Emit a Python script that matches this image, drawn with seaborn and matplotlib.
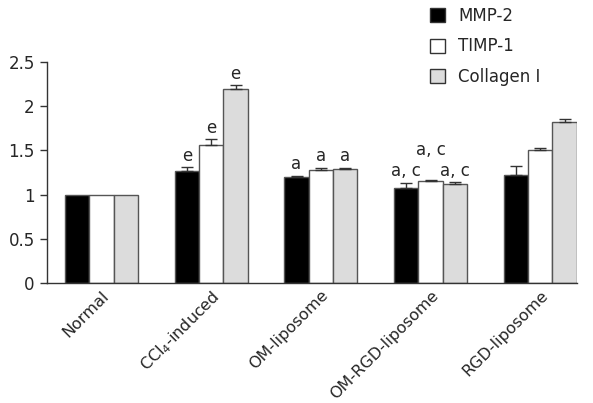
import numpy as np
import pandas as pd
import matplotlib
matplotlib.use("Agg")
import matplotlib.pyplot as plt
import matplotlib.transforms as mtransforms
import seaborn as sns
from matplotlib.patches import Patch

groups = ['Normal', 'CCl$_4$-induced', 'OM-liposome', 'OM-RGD-liposome', 'RGD-liposome']
series = ['MMP-2', 'TIMP-1', 'Collagen I']

mmp2 = [1.00, 1.27, 1.20, 1.08, 1.22]
timp1 = [1.00, 1.565, 1.28, 1.155, 1.50]
collagen = [1.00, 2.20, 1.285, 1.115, 1.82]

mmp2_err = [0.0, 0.04, 0.01, 0.05, 0.10]
timp1_err = [0.0, 0.06, 0.02, 0.015, 0.025]
collagen_err = [0.0, 0.035, 0.015, 0.025, 0.03]

mmp2_sig = ['', 'e', 'a', 'a, c', '']
timp1_sig = ['', 'e', 'a', 'a, c', '']
collagen_sig = ['', 'e', 'a', 'a, c', '']

colors = ['black', 'white', '#dcdcdc']

df = pd.DataFrame({
    'Group': groups * 3,
    'Series': [s for s in series for _ in groups],
    'Value': mmp2 + timp1 + collagen,
})
errs = [mmp2_err, timp1_err, collagen_err]
sigs = [mmp2_sig, timp1_sig, collagen_sig]

sns.set_style('white')
plt.rcParams['font.family'] = ['DejaVu Sans']

fig = plt.figure(figsize=(5.93, 4.03), dpi=100)
ax = fig.add_axes([0.0787, 0.2978, 0.894, 0.5484])

sns.barplot(data=df, x='Group', y='Value', hue='Series', order=groups,
            hue_order=series, palette=colors, width=0.667, errorbar=None,
            edgecolor='#555555', linewidth=1, legend=False, ax=ax, saturation=1)

# error bars (upper only) and significance letters
bar_conts = list(ax.containers)
for i, cont in enumerate(bar_conts):
    for j, bar in enumerate(cont.patches):
        x = bar.get_x() + bar.get_width() / 2
        h = bar.get_height()
        e = errs[i][j]
        if e > 0:
            ax.errorbar(x, h, yerr=[[0], [e]], fmt='none', ecolor='#333333',
                        elinewidth=1, capsize=4, capthick=1)
        lab = sigs[i][j]
        if lab:
            y = h + e + 0.03
            if lab == 'a, c' and i == 1:
                y += 0.2
            ax.text(x, y, lab, ha='center', va='bottom', fontsize=12)

ax.set_xlim(-0.5, 4.333)
ax.set_ylim(0, 2.5)
ax.set_yticks([0, 0.5, 1, 1.5, 2, 2.5])
ax.set_yticklabels(['0', '0.5', '1', '1.5', '2', '2.5'], fontsize=12)
ax.set_xticks(range(len(groups)))
ax.set_xticklabels(groups, rotation=45, ha='right', rotation_mode='anchor', fontsize=11.5)
shift = mtransforms.ScaledTranslation(9 / 100, 1 / 100, fig.dpi_scale_trans)
for lbl in ax.get_xticklabels():
    lbl.set_transform(lbl.get_transform() + shift)
ax.set_xlabel('')
ax.set_ylabel('')
ax.tick_params(axis='y', length=5, width=1, color='#333333', direction='out', left=True)
ax.tick_params(axis='x', length=0)
for s in ['top', 'right']:
    ax.spines[s].set_visible(False)
for s in ['left', 'bottom']:
    ax.spines[s].set_color('#333333')
    ax.spines[s].set_linewidth(1)

handles = [Patch(facecolor=c, edgecolor='#333333', linewidth=1) for c in colors]
fig.legend(handles, series, loc='upper left', bbox_to_anchor=(0.70, 1.02),
           frameon=False, fontsize=12, handlelength=0.9, handleheight=0.9,
           labelspacing=0.75, handletextpad=0.8)

fig.savefig('out.png', dpi=100)
